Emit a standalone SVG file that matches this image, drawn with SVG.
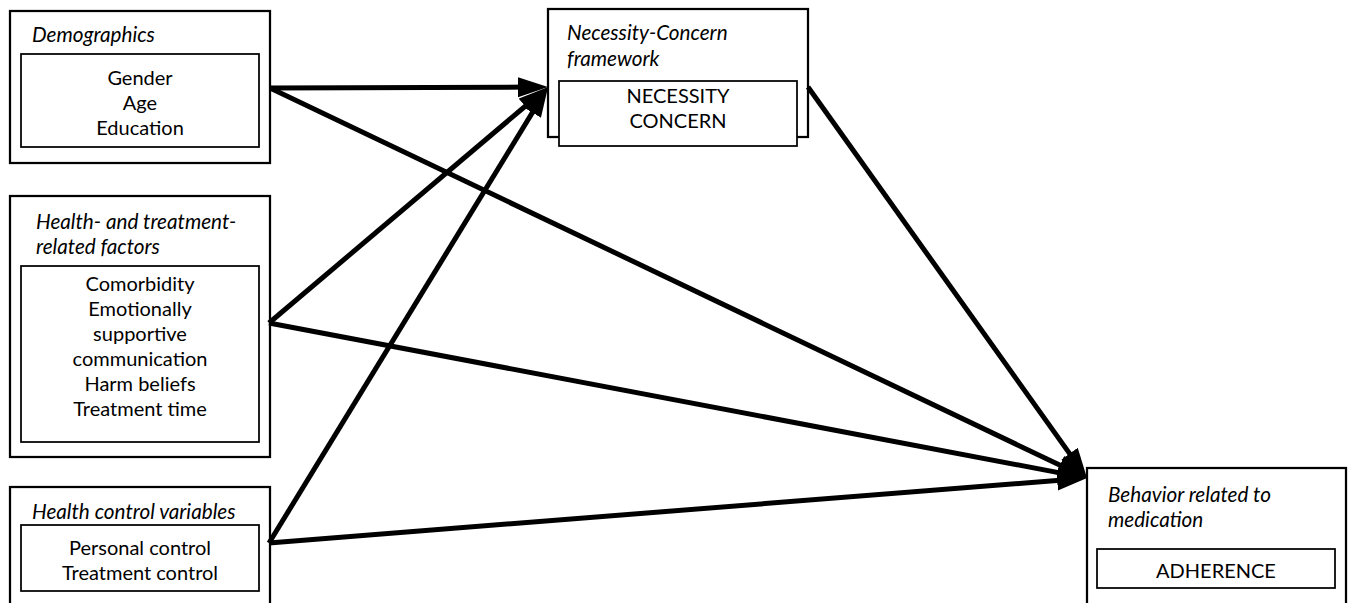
<svg xmlns="http://www.w3.org/2000/svg" width="1352" height="603" viewBox="0 0 1352 603">
<style>
.outer{fill:#fff;stroke:#000;stroke-width:2.25}
.inner{fill:#fff;stroke:#000;stroke-width:1.75}
.hdr{font-family:Lato,"Liberation Sans",sans-serif;font-style:italic;font-size:20.7px;fill:#000}
.txt{font-family:Lato,"Liberation Sans",sans-serif;font-size:20px;fill:#000;text-anchor:middle}
.arr{stroke:#000;stroke-width:5;fill:none;marker-end:url(#ah)}
</style>
<defs>
<marker id="ah" markerUnits="userSpaceOnUse" markerWidth="32" markerHeight="22" refX="9" refY="10" orient="auto" viewBox="0 0 32 22">
<path d="M0,0 L30,10 L0,20 z" fill="#000"/>
</marker>
</defs>
<g id="demographics">
<rect class="outer" x="10" y="11" width="260" height="152"/>
<text class="hdr" x="32" y="42">Demographics</text>
<rect class="inner" x="21" y="54" width="238" height="93"/>
<text class="txt" x="140" y="85">Gender</text>
<text class="txt" x="140" y="110">Age</text>
<text class="txt" x="140" y="135">Education</text>
</g>
<g id="health">
<rect class="outer" x="10" y="196" width="260" height="261"/>
<text class="hdr" x="36" y="229">Health- and treatment-</text>
<text class="hdr" x="36" y="254">related factors</text>
<rect class="inner" x="21" y="266" width="238" height="176"/>
<text class="txt" x="140" y="291">Comorbidity</text>
<text class="txt" x="140" y="316">Emotionally</text>
<text class="txt" x="140" y="341">supportive</text>
<text class="txt" x="140" y="366">communication</text>
<text class="txt" x="140" y="391">Harm beliefs</text>
<text class="txt" x="140" y="416">Treatment time</text>
</g>
<g id="healthcontrol">
<rect class="outer" x="10" y="487" width="260" height="140"/>
<text class="hdr" x="32" y="519">Health control variables</text>
<rect class="inner" x="21" y="525" width="238" height="66"/>
<text class="txt" x="140" y="555">Personal control</text>
<text class="txt" x="140" y="580">Treatment control</text>
</g>
<g id="necessityconcern">
<rect class="outer" x="548" y="9" width="260" height="128"/>
<text class="hdr" x="567" y="40">Necessity-Concern</text>
<text class="hdr" x="567" y="66">framework</text>
<rect class="inner" x="559" y="81" width="238" height="65"/>
<text class="txt" x="678" y="103">NECESSITY</text>
<text class="txt" x="678" y="128">CONCERN</text>
</g>
<g id="adherence">
<rect class="outer" x="1087" y="468" width="259" height="160"/>
<text class="hdr" x="1108" y="502">Behavior related to</text>
<text class="hdr" x="1108" y="527">medication</text>
<rect class="inner" x="1097" y="549" width="238" height="39"/>
<text class="txt" x="1216" y="578">ADHERENCE</text>
</g>
<g id="connectors">
<line class="arr" x1="270" y1="88" x2="527" y2="87.1"/>
<line class="arr" x1="269" y1="323" x2="532" y2="100.5"/>
<line class="arr" x1="269" y1="543" x2="537.1" y2="104.9"/>
<line class="arr" x1="270" y1="88" x2="1068" y2="469"/>
<line class="arr" x1="269" y1="323" x2="1066.4" y2="474.1"/>
<line class="arr" x1="269" y1="543" x2="1066.1" y2="479.7"/>
<line class="arr" x1="808" y1="87" x2="1074.8" y2="460.9"/>
</g>
</svg>
